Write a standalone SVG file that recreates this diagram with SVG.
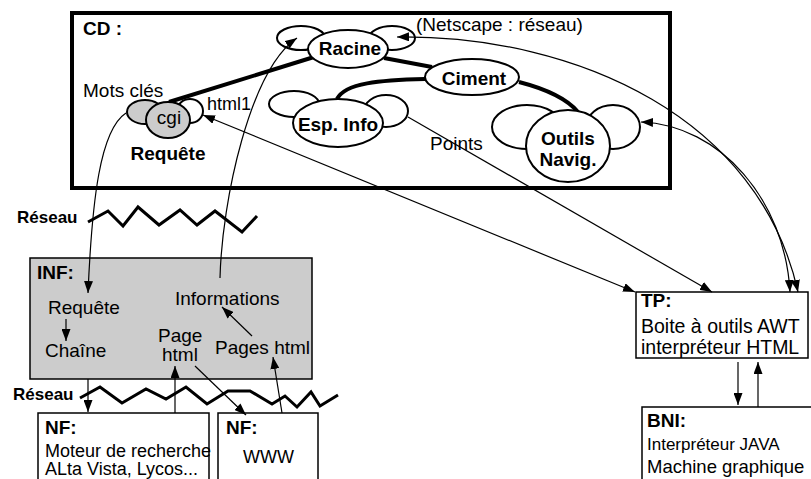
<svg xmlns="http://www.w3.org/2000/svg" width="811" height="479" viewBox="0 0 811 479">
<defs>
<marker id="ah" viewBox="0 0 12 9" refX="12" refY="4.5" markerWidth="12" markerHeight="9" markerUnits="userSpaceOnUse" orient="auto-start-reverse">
<path d="M0,0 L12,4.5 L0,9 Z" fill="#000"/>
</marker>
</defs>
<style>
text{font-family:"Liberation Sans",Arial,sans-serif;font-size:19px;fill:#000}
.b{font-weight:bold}
.m{text-anchor:middle}
.lobe{fill:#fff;stroke:#000;stroke-width:2}
.node{fill:#fff;stroke:#000;stroke-width:2}
.gray{fill:#ccc;stroke:#000;stroke-width:2}
.thick{fill:none;stroke:#000;stroke-width:4}
.c{fill:none;stroke:#000;stroke-width:1.2}
.box{fill:#fff;stroke:#000;stroke-width:1.5}
.zig{fill:none;stroke:#000;stroke-width:3;stroke-linejoin:miter}
</style>
<rect x="0" y="0" width="811" height="479" fill="#fff"/>

<g id="cd">
<rect x="72" y="13" width="598" height="175" fill="#fff" stroke="#000" stroke-width="4"/>
<text x="83" y="35" class="b">CD :</text>
<text x="416" y="31">(Netscape : réseau)</text>
<text x="430" y="150">Points</text>
</g>

<g id="thick-links">
<line x1="169" y1="102" x2="314" y2="57" class="thick"/>
<line x1="384" y1="58" x2="432" y2="67" class="thick"/>
<path d="M425,79 C380,80 345,83 337,99" class="thick"/>
<path d="M519,82 C550,90 568,100 578,112" class="thick"/>
</g>

<g id="racine">
<ellipse cx="301" cy="38" rx="24" ry="12" class="lobe"/>
<ellipse cx="392" cy="38" rx="23" ry="12" class="lobe"/>
<ellipse cx="348" cy="49" rx="40" ry="19" class="node"/>
<text x="350" y="55" class="b m">Racine</text>
</g>

<g id="ciment">
<ellipse cx="472" cy="77" rx="47" ry="18" class="node"/>
<text x="474" y="85" class="b m">Ciment</text>
</g>

<g id="espinfo">
<ellipse cx="294" cy="104" rx="25" ry="13" class="lobe"/>
<ellipse cx="386" cy="111" rx="22" ry="16" class="lobe"/>
<ellipse cx="338" cy="123" rx="45" ry="24" class="node"/>
<text x="338" y="131" class="b m">Esp. Info</text>
</g>

<g id="outils">
<ellipse cx="527" cy="127" rx="35" ry="22" class="lobe"/>
<ellipse cx="613" cy="127" rx="27" ry="22" class="lobe"/>
<ellipse cx="568" cy="146" rx="42" ry="36" class="node"/>
<text x="568" y="145" class="b m">Outils</text>
<text x="568" y="166" class="b m">Navig.</text>
</g>

<g id="requete">
<ellipse cx="145" cy="112" rx="18" ry="12" class="gray"/>
<ellipse cx="190" cy="111" rx="13" ry="12" class="lobe"/>
<ellipse cx="168" cy="120" rx="22" ry="18" class="gray"/>
<text x="169" y="124" class="m">cgi</text>
<text x="83" y="97">Mots clés</text>
<text x="207" y="110" style="font-size:18px">html1</text>
<text x="168" y="160" class="b m">Requête</text>
</g>

<g id="reseau1">
<text x="17" y="223" class="b" style="font-size:17px">Réseau</text>
<polyline points="88,222 108,211 123,226 138,207 159,225 180,210 197,225 215,211 242,232 257,216" class="zig"/>
</g>

<g id="inf">
<rect x="30" y="258" width="282" height="121" fill="#ccc" stroke="#000" stroke-width="1.5"/>
<text x="37" y="279" class="b">INF:</text>
<text x="48" y="314">Requête</text>
<text x="45" y="357">Chaîne</text>
<text x="175" y="305">Informations</text>
<text x="158" y="342">Page</text>
<text x="162" y="361">html</text>
<text x="215" y="354">Pages html</text>
</g>

<g id="reseau2">
<text x="13" y="400" class="b" style="font-size:17px">Réseau</text>
<polyline points="80,398 100,387 122,403 146,389 166,399 186,387 207,404 228,391 250,391 272,404 285,396 297,407 311,392 320,406 338,395" class="zig"/>
</g>

<g id="nf1">
<rect x="38" y="413" width="171" height="80" class="box"/>
<text x="45" y="434" class="b">NF:</text>
<text x="45" y="457" style="font-size:18px">Moteur de recherche</text>
<text x="45" y="475" style="font-size:18px">ALta Vista, Lycos...</text>
</g>

<g id="nf2">
<rect x="218" y="413" width="100" height="80" class="box"/>
<text x="226" y="434" class="b">NF:</text>
<text x="243" y="463" style="font-size:18px">WWW</text>
</g>

<g id="tp">
<rect x="636" y="292" width="172" height="66" class="box"/>
<text x="641" y="307" class="b">TP:</text>
<text x="641" y="333" style="font-size:19.5px">Boite à outils AWT</text>
<text x="641" y="354" style="font-size:19.5px">interpréteur HTML</text>
</g>

<g id="bni">
<rect x="642" y="407" width="180" height="90" class="box"/>
<text x="647" y="427" class="b">BNI:</text>
<text x="647" y="450" style="font-size:17px">Interpréteur JAVA</text>
<text x="647" y="473" style="font-size:18.5px">Machine graphique</text>
</g>

<g id="connectors">
<path d="M126,113 C100,130 92,200 88,293" class="c" marker-end="url(#ah)"/>
<path d="M220,278 C222,200 250,70 297,38" class="c" marker-end="url(#ah)"/>
<line x1="203" y1="115" x2="635" y2="292" class="c" marker-start="url(#ah)" marker-end="url(#ah)"/>
<line x1="408" y1="117" x2="712" y2="292" class="c" marker-end="url(#ah)"/>
<path d="M397,37 C580,35 760,120 798,292" class="c" marker-start="url(#ah)" marker-end="url(#ah)"/>
<path d="M641,122 C720,125 785,200 790,292" class="c" marker-start="url(#ah)" marker-end="url(#ah)"/>
<line x1="66" y1="319" x2="66" y2="341" class="c" marker-end="url(#ah)"/>
<line x1="252" y1="336" x2="222" y2="307" class="c" marker-end="url(#ah)"/>
<line x1="88" y1="379" x2="88" y2="412" class="c" marker-end="url(#ah)"/>
<line x1="175" y1="413" x2="175" y2="366" class="c" marker-end="url(#ah)"/>
<line x1="195" y1="366" x2="246" y2="415" class="c" marker-end="url(#ah)"/>
<line x1="282" y1="413" x2="273" y2="357" class="c" marker-end="url(#ah)"/>
<line x1="738" y1="362" x2="738" y2="405" class="c" marker-end="url(#ah)"/>
<line x1="758" y1="407" x2="758" y2="362" class="c" marker-end="url(#ah)"/>
</g>
</svg>
